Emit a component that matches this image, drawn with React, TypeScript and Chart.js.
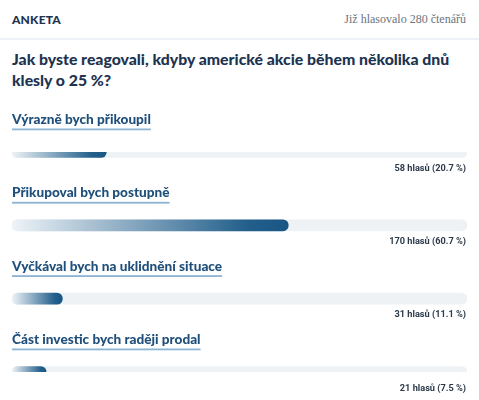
import React, { useEffect, useRef } from 'react';
import { Chart, registerables } from 'chart.js';

Chart.register(...registerables);

const title = 'Jak byste reagovali, kdyby americké akcie během několika dnů klesly o 25 %?';
const totalVotes = 280;
const options = [
  'Výrazně bych přikoupil',
  'Přikupoval bych postupně',
  'Vyčkával bych na uklidnění situace',
  'Část investic bych raději prodal',
];
const votes = [58, 170, 31, 21];
const percents = ['20.7', '60.7', '11.1', '7.5'];

// labels above each bar + vote count under it
const pollLabels = {
  id: 'pollLabels',
  afterDatasetsDraw(chart: any) {
    const { ctx, scales } = chart;
    const y = scales.y;
    const right = chart.chartArea.right;
    const left = chart.chartArea.left;
    ctx.save();
    options.forEach((name, i) => {
      const cy = y.getPixelForValue(i);
      ctx.font = '900 13.6px Lato';
      ctx.fillStyle = '#1f4f7a';
      ctx.textBaseline = 'middle';
      ctx.textAlign = 'left';
      ctx.fillText(name, left, cy - 32.5);
      const w = ctx.measureText(name).width;
      ctx.fillStyle = '#8db3d3';
      ctx.fillRect(left, cy - 23.5, w, 1.8);

      ctx.font = '700 9.2px Roboto';
      ctx.fillStyle = '#2b3a4a';
      ctx.textAlign = 'right';
      ctx.fillText(`${votes[i]} hlasů (${percents[i]} %)`, right - 1, cy + 16.5);
    });
    ctx.restore();
  },
};

const PollChart: React.FC = () => {
  const canvasRef = useRef<HTMLCanvasElement>(null);
  const chartRef = useRef<Chart | null>(null);

  useEffect(() => {
    if (!canvasRef.current) return;
    const ctx = canvasRef.current.getContext('2d');
    if (!ctx) return;
    if (chartRef.current) chartRef.current.destroy();

    chartRef.current = new Chart(ctx, {
      type: 'bar',
      data: {
        labels: options,
        datasets: [
          {
            label: 'Hlasy',
            data: votes,
            order: 0,
            backgroundColor: (c: any) => {
              const chart = c.chart;
              const area = chart.chartArea;
              if (!area || c.dataIndex === undefined) return '#1c5d8a';
              const end = chart.scales.x.getPixelForValue(votes[c.dataIndex]);
              const g = chart.ctx.createLinearGradient(area.left, 0, end, 0);
              g.addColorStop(0, '#eef3f7');
              g.addColorStop(0.85, '#235f8b');
              g.addColorStop(1, '#195685');
              return g;
            },
            barThickness: 11,
            borderRadius: 6,
            borderSkipped: false,
          },
          {
            label: 'Celkem',
            data: options.map(() => totalVotes),
            order: 1,
            backgroundColor: '#eef2f5',
            barThickness: 11,
            borderRadius: 6,
            borderSkipped: false,
          },
        ],
      },
      options: {
        indexAxis: 'y',
        responsive: true,
        maintainAspectRatio: false,
        animation: false,
        layout: { padding: { left: 12, right: 12, top: 52, bottom: 28 } },
        plugins: { legend: { display: false }, tooltip: { enabled: false } },
        datasets: { bar: { grouped: false } },
        scales: {
          x: { display: false, min: 0, max: totalVotes },
          y: { display: false, offset: false },
        },
      },
      plugins: [pollLabels],
    });

    return () => {
      if (chartRef.current) {
        chartRef.current.destroy();
        chartRef.current = null;
      }
    };
  }, []);

  return (
    <div style={{ position: 'relative', height: 300 }}>
      <canvas ref={canvasRef}></canvas>
    </div>
  );
};

const App: React.FC = () => {
  useEffect(() => {
    document.body.style.margin = '0';
  }, []);

  return (
    <div style={{ width: 479, height: 400, background: '#fff', overflow: 'hidden' }}>
      <div
        style={{
          height: 38,
          borderBottom: '2px solid #eef2f6',
          display: 'flex',
          alignItems: 'center',
          justifyContent: 'space-between',
          padding: '0 13px 0 12px',
          boxSizing: 'content-box',
        }}
      >
        <span style={{ fontFamily: 'Lato', fontWeight: 900, fontSize: 12, color: '#1d3350', letterSpacing: 0.2 }}>
          ANKETA
        </span>
        <span style={{ fontFamily: '"Liberation Serif"', fontSize: 12, color: '#6b7480' }}>
          Již hlasovalo {totalVotes} čtenářů
        </span>
      </div>
      <div
        style={{
          height: 60,
          padding: '8px 12px 0 12px',
          boxSizing: 'border-box',
          fontFamily: 'Lato',
          fontWeight: 900,
          fontSize: 15.8,
          lineHeight: '21px',
          color: '#1d3350',
        }}
      >
        {title}
      </div>
      <PollChart />
    </div>
  );
};

export default App;
